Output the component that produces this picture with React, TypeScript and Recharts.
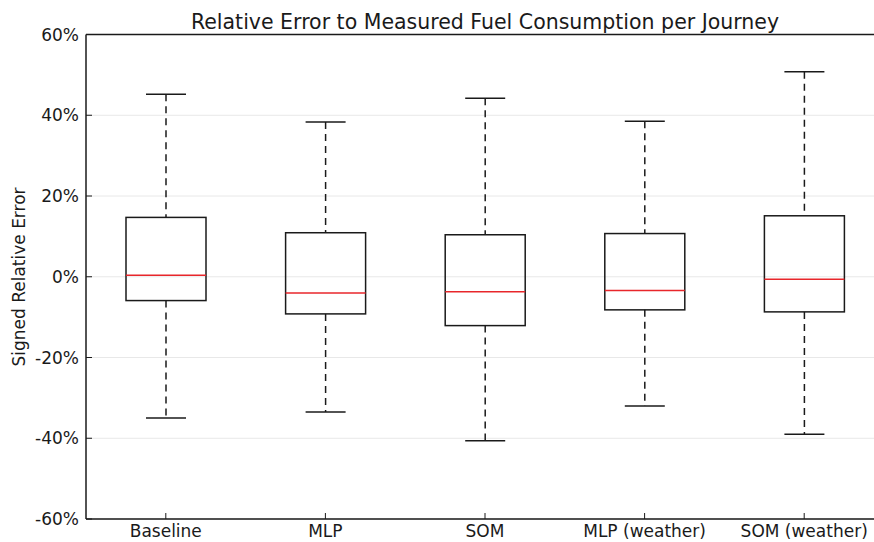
import React from 'react'
import {
  ComposedChart,
  Bar,
  XAxis,
  YAxis,
  CartesianGrid,
  ReferenceLine,
} from 'recharts'

const models = ['Baseline', 'MLP', 'SOM', 'MLP (weather)', 'SOM (weather)']
const whiskerLow = [-35.0, -33.5, -40.6, -32.0, -39.0]
const quartile1 = [-5.9, -9.2, -12.1, -8.2, -8.7]
const medians = [0.4, -4.0, -3.7, -3.4, -0.6]
const quartile3 = [14.7, 10.9, 10.4, 10.7, 15.1]
const whiskerHigh = [45.2, 38.3, 44.2, 38.5, 50.8]
const yTicks = [-60, -40, -20, 0, 20, 40, 60]

const data = models.map((name, i) => ({
  name,
  lo: whiskerLow[i],
  q1: quartile1[i],
  med: medians[i],
  q3: quartile3[i],
  hi: whiskerHigh[i],
  range: [whiskerLow[i], whiskerHigh[i]],
}))

const FONT = '"DejaVu Sans", sans-serif'
const INK = '#1a1a1a'

const BoxShape = (props: any) => {
  const { x, y, width, height, payload } = props
  if (!payload) return null
  const top = Math.min(y, y + height)
  const h = Math.abs(height)
  const k = h / (payload.hi - payload.lo)
  const py = (v: number) => top + (payload.hi - v) * k
  const cx = x + width / 2
  const cap = width / 4
  return (
    <g>
      <line x1={cx} x2={cx} y1={py(payload.hi)} y2={py(payload.q3)} stroke={INK} strokeWidth={1.5} strokeDasharray="7 5" />
      <line x1={cx} x2={cx} y1={py(payload.q1)} y2={py(payload.lo)} stroke={INK} strokeWidth={1.5} strokeDasharray="7 5" />
      <line x1={cx - cap} x2={cx + cap} y1={py(payload.hi)} y2={py(payload.hi)} stroke={INK} strokeWidth={1.5} />
      <line x1={cx - cap} x2={cx + cap} y1={py(payload.lo)} y2={py(payload.lo)} stroke={INK} strokeWidth={1.5} />
      <rect x={x} y={py(payload.q3)} width={width} height={py(payload.q1) - py(payload.q3)} fill="none" stroke={INK} strokeWidth={1.5} />
      <line x1={x} x2={x + width} y1={py(payload.med)} y2={py(payload.med)} stroke="#e8262b" strokeWidth={1.5} />
    </g>
  )
}

export default function App() {
  return (
    <div style={{ position: 'absolute', left: 0, top: 0, width: 874, height: 542, overflow: 'hidden', background: '#fff' }}>
      <ComposedChart
        width={890}
        height={542}
        data={data}
        margin={{ top: 34.5, right: 6, bottom: 0, left: 0 }}
        barCategoryGap={0}
      >
        <CartesianGrid vertical={false} stroke="#e8e8e8" />
        <XAxis
          dataKey="name"
          height={23}
          tickSize={-6}
          tickMargin={12}
          axisLine={{ stroke: INK, strokeWidth: 1.5 }}
          tickLine={{ stroke: INK }}
          tick={{ fill: INK, fontSize: 17, fontFamily: FONT }}
          interval={0}
        />
        <XAxis
          dataKey="name"
          xAxisId="top"
          orientation="top"
          height={0}
          tickSize={-6}
          tick={false}
          axisLine={{ stroke: INK, strokeWidth: 1.5 }}
          tickLine={{ stroke: INK }}
          interval={0}
        />
        <YAxis
          type="number"
          domain={[-60, 60]}
          ticks={yTicks}
          width={86}
          tickSize={-6}
          tickMargin={13}
          tickFormatter={(v: number) => `${v}%`}
          axisLine={{ stroke: INK, strokeWidth: 1.5 }}
          tickLine={{ stroke: INK }}
          tick={{ fill: INK, fontSize: 17, fontFamily: FONT }}
          allowDataOverflow
        />
        <ReferenceLine y={60} stroke={INK} strokeWidth={1.5} />
        <Bar dataKey="range" barSize={80} shape={BoxShape} isAnimationActive={false} />
      </ComposedChart>
      <svg width={874} height={542} style={{ position: 'absolute', left: 0, top: 0, pointerEvents: 'none' }}>
        <text x={485} y={29} textAnchor="middle" fontSize={20.5} fontFamily={FONT} fill={INK}>
          Relative Error to Measured Fuel Consumption per Journey
        </text>
        <text
          x={0}
          y={0}
          transform="translate(24.5 277) rotate(-90)"
          textAnchor="middle"
          fontSize={17}
          fontFamily={FONT}
          fill={INK}
        >
          Signed Relative Error
        </text>
      </svg>
    </div>
  )
}
